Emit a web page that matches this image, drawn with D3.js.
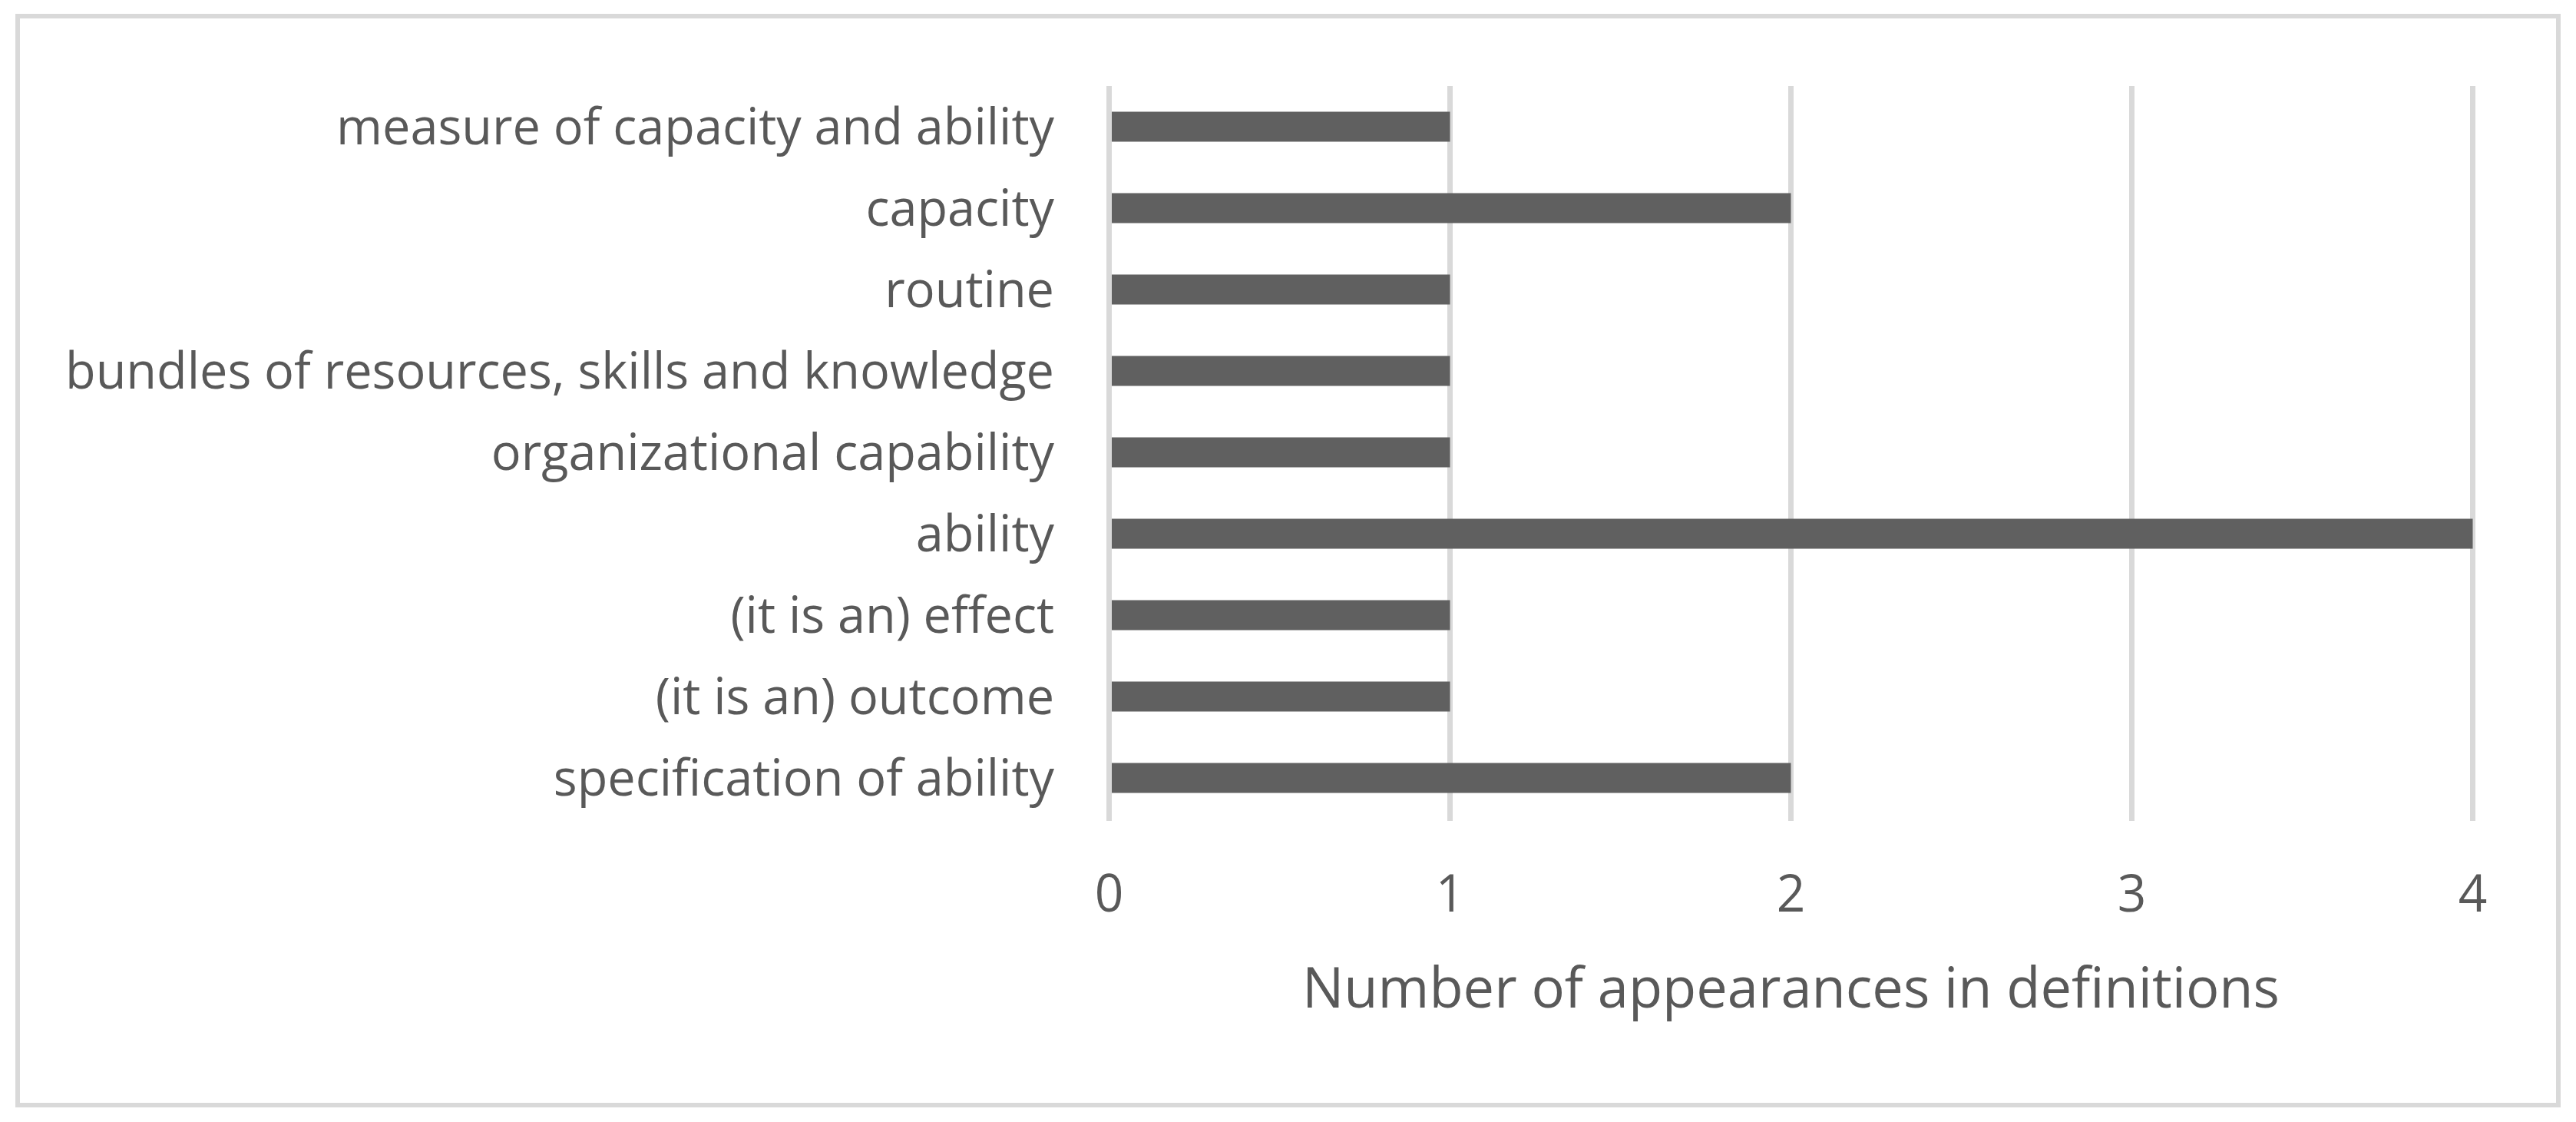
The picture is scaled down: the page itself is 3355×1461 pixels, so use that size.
<!DOCTYPE html>
<html>
<head>
<meta charset="utf-8">
<script src="https://cdn.jsdelivr.net/npm/d3@7"></script>
<style>
  html, body { margin: 0; padding: 0; background: #fff; }
  text { font-family: "Open Sans", sans-serif; fill: #595959; }
</style>
</head>
<body>
<svg id="chart" width="3355" height="1461"></svg>
<script>
// categories top to bottom, as in the picture
var categories = [
  "measure of capacity and ability",
  "capacity",
  "routine",
  "bundles of resources, skills and knowledge",
  "organizational capability",
  "ability",
  "(it is an) effect",
  "(it is an) outcome",
  "specification of ability"
];
var counts = [1, 2, 1, 1, 1, 4, 1, 1, 2];
var tickValues = [0, 1, 2, 3, 4];
var axisTitle = "Number of appearances in definitions";

var data = categories.map(function(c, i) {
  return { name: c, value: counts[i] };
});

var svg = d3.select("#chart");

// outer frame
svg.append("rect")
  .attr("x", 23).attr("y", 21)
  .attr("width", 3309).attr("height", 1418)
  .attr("fill", "#fff")
  .attr("stroke", "#d9d9d9")
  .attr("stroke-width", 6);

var x = d3.scaleLinear().domain([0, 4]).range([1444.5, 3220.5]);
var y = d3.scaleBand().domain(categories).range([112, 1066]).paddingInner(0.632).paddingOuter(0.316);

// gridlines
svg.append("g")
  .selectAll("line")
  .data(tickValues)
  .enter()
  .append("line")
  .attr("x1", function(d) { return x(d); })
  .attr("x2", function(d) { return x(d); })
  .attr("y1", 112)
  .attr("y2", 1069)
  .attr("stroke", "#d9d9d9")
  .attr("stroke-width", 7);

// bars
svg.append("g")
  .selectAll("rect")
  .data(data)
  .enter()
  .append("rect")
  .attr("x", x(0) + 3.5)
  .attr("y", function(d) { return y(d.name); })
  .attr("height", y.bandwidth())
  .attr("width", function(d) { return x(d.value) - x(0) - 3.5; })
  .attr("fill", "#606060");

// category labels
var catLabels = svg.append("g")
  .selectAll("text")
  .data(data)
  .enter()
  .append("text")
  .attr("x", 1373)
  .attr("y", function(d) { return y(d.name) + y.bandwidth() / 2 + 23; })
  .attr("text-anchor", "end")
  .style("font-size", "66px")
  .text(function(d) { return d.name; });

// tick labels
var tickLabels = svg.append("g")
  .selectAll("text")
  .data(tickValues)
  .enter()
  .append("text")
  .attr("x", function(d) { return x(d); })
  .attr("y", 1187)
  .attr("text-anchor", "middle")
  .style("font-size", "67px")
  .text(function(d) { return d; });

var title = svg.append("text")
  .attr("x", (x(0) + x(4)) / 2)
  .attr("y", 1312)
  .attr("text-anchor", "middle")
  .style("font-size", "74px")
  .text(axisTitle);

// squeeze glyphs to the narrower width of the original typeface
var longest = catLabels.filter(function(d, i) { return i === 3; }).node();
var ratio = 1288 / longest.getComputedTextLength();
function squeeze(sel) {
  sel.each(function() {
    var w = this.getComputedTextLength();
    d3.select(this).attr("textLength", w * ratio).attr("lengthAdjust", "spacingAndGlyphs");
  });
}
squeeze(catLabels);
squeeze(tickLabels);
title.attr("textLength", 1273).attr("lengthAdjust", "spacingAndGlyphs");
</script>
</body>
</html>
